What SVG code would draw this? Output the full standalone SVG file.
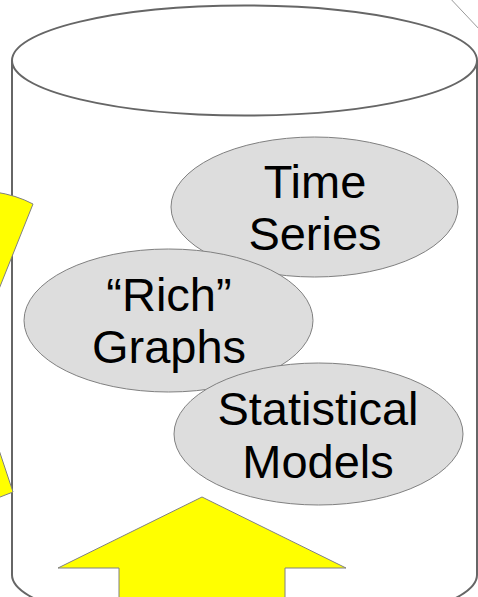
<svg xmlns="http://www.w3.org/2000/svg" width="478" height="597" viewBox="0 0 478 597">
<style>
.cyl{fill:#ffffff;stroke:#666666;stroke-width:2}
.yel{fill:#ffff00;stroke:#808080;stroke-width:1;stroke-linejoin:miter}
.node{fill:#dddddd;stroke:#808080;stroke-width:1}
.lbl{font-family:"Liberation Sans",Arial,sans-serif;font-size:47px;fill:#000000;text-anchor:middle}
.thin{fill:none;stroke:#999999;stroke-width:1}
</style>
<g id="cylinder">
<path class="cyl" d="M12,60 L12,575 A232.5,55 0 0 0 477,575 L477,60"/>
<ellipse class="cyl" cx="244.5" cy="60.5" rx="232.5" ry="55"/>
</g>
<line class="thin" x1="447" y1="-5" x2="480" y2="30"/>
<g id="yellow-left">
<path class="yel" d="M-5,192 Q16,195 33,204 L-5,299 Z"/>
<path class="yel" d="M-5,438 L13,492 L-5,499 Z"/>
</g>
<g id="arrow-up">
<path class="yel" d="M202,497 L346,568 L285,568 L285,605 L119,605 L119,568 L58,568 Z"/>
</g>
<g id="time-series">
<ellipse class="node" cx="314.5" cy="207" rx="143.5" ry="70"/>
<text class="lbl" x="315" y="198">Time</text>
<text class="lbl" x="315" y="250">Series</text>
</g>
<g id="rich-graphs">
<ellipse class="node" cx="168.5" cy="320.5" rx="144.5" ry="71.5"/>
<text class="lbl" x="169" y="311">“Rich”</text>
<text class="lbl" x="169" y="363">Graphs</text>
</g>
<g id="statistical-models">
<ellipse class="node" cx="318.5" cy="434" rx="144.5" ry="71"/>
<text class="lbl" x="318" y="425">Statistical</text>
<text class="lbl" x="318" y="478">Models</text>
</g>
</svg>
